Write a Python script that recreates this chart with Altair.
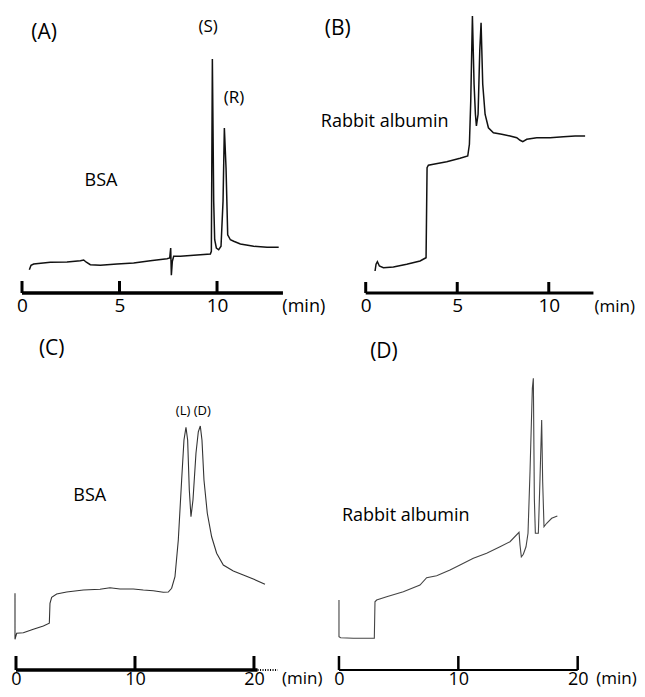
import altair as alt
import pandas as pd

FONT = "Open Sans"

# ---------------- data (time in min, detector signal in arbitrary units) ----------------
a_time = [0.376, 0.462, 0.598, 1.453, 2.308, 2.991, 3.162, 3.299, 3.504, 4.017, 4.872, 5.726,
          6.581, 7.436, 7.573, 7.624, 7.658, 7.709, 7.778, 8.12, 8.803, 9.658, 9.709, 9.761,
          9.829, 9.88, 9.966, 10.085, 10.205, 10.308, 10.376, 10.462, 10.547, 10.684, 10.855,
          11.197, 11.88, 12.564, 13.162]
a_signal = [9.3, 11.1, 11.6, 12.3, 12.4, 12.9, 13.2, 12.3, 11.3, 11.1, 11.6, 12.0,
            12.9, 13.7, 14.0, 18.0, 7.1, 12.7, 14.7, 14.7, 15.1, 15.6, 16.7, 93.6,
            36.7, 21.3, 18.0, 17.3, 18.7, 36.7, 66.0, 50.0, 23.3, 21.3, 20.7,
            19.6, 18.7, 18.3, 18.3]

b_time = [0.51, 0.565, 0.638, 0.747, 0.965, 1.512, 2.24, 2.969, 3.242, 3.297, 3.352, 3.424,
          3.698, 4.426, 5.155, 5.574, 5.665, 5.738, 5.829, 5.92, 5.993, 6.047, 6.138, 6.23,
          6.302, 6.393, 6.521, 6.703, 6.976, 7.432, 7.887, 8.251, 8.434, 8.579, 8.798, 9.344,
          10.073, 10.801, 11.439, 11.985]
b_signal = [8.8, 11.5, 12.5, 10.8, 10.1, 10.4, 11.5, 12.8, 13.9, 14.1, 50.1, 51.1,
            51.5, 52.5, 53.9, 54.8, 59.5, 76.8, 110.8, 83.5, 71.5, 66.8, 71.5, 96.8,
            108.1, 83.5, 71.5, 66.1, 64.1, 63.5, 62.8, 62.1, 61.1, 60.5, 61.5, 62.1,
            62.1, 62.5, 62.8, 62.8]

c_time = [-0.084, -0.084, 0.056, 0.616, 1.457, 2.297, 2.801, 2.857, 2.997, 3.417, 4.258, 5.658,
          7.059, 7.899, 8.739, 9.86, 10.7, 11.541, 12.381, 12.801, 13.081, 13.361, 13.641,
          13.922, 14.118, 14.286, 14.426, 14.566, 14.706, 14.874, 15.126, 15.322, 15.49, 15.63,
          15.798, 16.078, 16.443, 16.863, 17.423, 18.263, 19.104, 19.944, 20.924]
c_signal = [30.7, 12.3, 14.7, 14.9, 16.3, 17.6, 18.7, 26.7, 29.1, 30.4, 31.2, 32.0,
            32.3, 32.9, 32.4, 32.4, 32.0, 31.7, 31.1, 31.2, 32.7, 37.3, 52.0,
            76.0, 92.0, 97.1, 92.0, 72.0, 61.3, 68.0, 86.7, 95.3, 97.6, 92.0,
            76.0, 62.7, 53.3, 46.7, 42.0, 39.6, 38.0, 36.4, 34.3]

d_time = [0.0, 0.0, 0.14, 1.201, 2.961, 3.017, 3.156, 3.994, 5.391, 6.788, 7.346, 8.184,
          9.302, 10.14, 11.257, 12.374, 13.492, 14.33, 15.084, 15.168, 15.279, 15.447, 15.67,
          15.838, 16.006, 16.201, 16.285, 16.369, 16.453, 16.704, 16.844, 16.983, 17.067,
          17.179, 17.402, 17.821, 18.296]
d_signal = [28.0, 13.3, 12.9, 12.7, 12.7, 27.3, 28.0, 29.3, 31.3, 34.0, 36.9, 37.7,
            40.0, 42.0, 44.7, 46.7, 49.3, 51.3, 55.1, 50.0, 45.3, 46.3, 49.3,
            54.7, 79.3, 112.7, 116.7, 68.7, 54.7, 54.7, 76.7, 100.0, 75.3,
            57.3, 58.7, 60.7, 61.6]

ticks_ab = [0, 5, 10]
ticks_cd = [0, 10, 20]


def panel(time, signal, xdom, ydom, width, height, tick_values, axis_end, axis_w,
          tick_h, tick_w, label_pad, label_size, line_color, line_w, notes_c, notes_l,
          dotted=None):
    xs = alt.Scale(domain=xdom, nice=False, zero=False)
    ys = alt.Scale(domain=ydom, nice=False, zero=False)
    xaxis = alt.Axis(values=tick_values, domain=False, ticks=False, tickSize=0, grid=False,
                     title=None, labelFont=FONT, labelFontSize=label_size, labelColor="black",
                     labelPadding=label_pad, labelFlush=False, format="d")
    df = pd.DataFrame({"t": time, "s": signal, "i": list(range(len(time)))})
    trace = alt.Chart(df).mark_line(color=line_color, strokeWidth=line_w, clip=False).encode(
        x=alt.X("t:Q", scale=xs, axis=xaxis),
        y=alt.Y("s:Q", scale=ys, axis=None),
        order=alt.Order("i:Q"),
    )
    base = alt.Chart(pd.DataFrame({"x0": [0], "x1": [axis_end], "y": [0]})).mark_rule(
        color="black", strokeWidth=axis_w, strokeCap="butt").encode(
        x=alt.X("x0:Q", scale=xs, axis=xaxis), x2="x1:Q", y=alt.Y("y:Q", scale=ys, axis=None))
    tk = alt.Chart(pd.DataFrame({"t": tick_values, "y0": [0] * len(tick_values),
                                 "y1": [tick_h] * len(tick_values)})).mark_rule(
        color="black", strokeWidth=tick_w, strokeCap="butt").encode(
        x=alt.X("t:Q", scale=xs, axis=xaxis), y=alt.Y("y0:Q", scale=ys, axis=None), y2="y1:Q")
    layers = [trace, base, tk]
    if dotted is not None:
        dt = alt.Chart(pd.DataFrame({"x0": [dotted[0]], "x1": [dotted[1]], "y": [0]})).mark_rule(
            color="black", strokeWidth=2, strokeDash=[1, 1.5]).encode(
            x=alt.X("x0:Q", scale=xs, axis=xaxis), x2="x1:Q", y=alt.Y("y:Q", scale=ys, axis=None))
        layers.append(dt)
    for notes, align in ((notes_c, "center"), (notes_l, "left")):
        if notes:
            ndf = pd.DataFrame(notes, columns=["x", "y", "text", "size"])
            layers.append(alt.Chart(ndf).mark_text(font=FONT, align=align, baseline="middle",
                                                   color="black").encode(
                x=alt.X("x:Q", scale=xs, axis=xaxis), y=alt.Y("y:Q", scale=ys, axis=None),
                text="text:N", size=alt.Size("size:Q", scale=None, legend=None)))
    return alt.layer(*layers).properties(width=width, height=height)


pa = panel(a_time, a_signal, [-0.718, 15.28], [0, 114], 312, 285, ticks_ab, 13.38, 3.5, 4.8, 3,
           3, 19, "#111111", 1.5,
           [(1.13, 104, "(A)", 21), (9.54, 106.4, "(S)", 17), (10.87, 78, "(R)", 17),
            (4.05, 44.8, "BSA", 18)],
           [(13.35, -5.6, "(min)", 18)])
pb = panel(b_time, b_signal, [-2.497, 14.82], [0, 114], 317, 285, ticks_ab, 12.44, 3, 4.4, 3,
           3, 19, "#111111", 1.5,
           [(-1.53, 105.6, "(B)", 21)],
           [(-2.45, 68.4, "Rabbit albumin", 18), (12.50, -5.6, "(min)", 17)])
pc = panel(c_time, c_signal, [-0.672, 25.55], [0, 135.2], 312, 338, ticks_cd, 20.3, 3.5, 5.6, 3,
           0, 18, "#333333", 1.1,
           [(3.0, 128.4, "(C)", 21), (14.9, 103.6, "(L) (D)", 13), (6.2, 69.6, "BSA", 18)],
           [(22.35, -3.6, "(min)", 17)], dotted=(20.3, 22.0))
pd_ = panel(d_time, d_signal, [-1.59, 24.97], [0, 135.2], 317, 338, ticks_cd, 20.0, 2, 5.6, 2.5,
            0, 18, "#444444", 1.1,
            [(3.77, 127.2, "(D)", 21)],
            [(0.25, 61.6, "Rabbit albumin", 18), (21.55, -3.6, "(min)", 17)])

chart = alt.concat(pa, pb, pc, pd_, columns=2, spacing={"row": 39, "column": 0},
                   bounds="flush").properties(padding=0).configure(
    background="white", view=alt.ViewConfig(stroke=None))

chart.save("out.html", embed_options={"renderer": "svg", "actions": False})
